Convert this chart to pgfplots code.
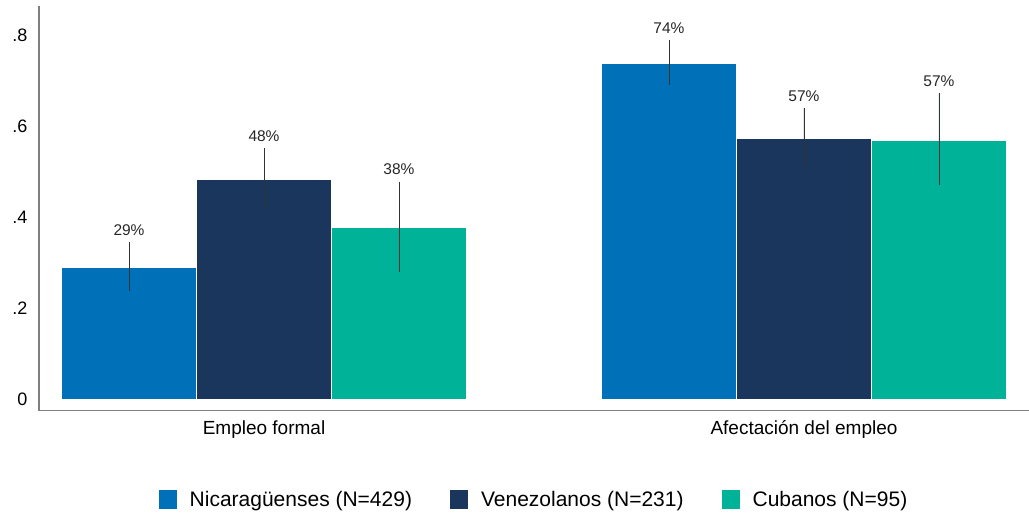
\documentclass[border=0pt]{standalone}
\usepackage{fontspec}
\setmainfont{Liberation Sans}
\usepackage{pgfplots}
\usepackage{pgfplotstable}
\pgfplotsset{compat=1.18}
\definecolor{nica}{HTML}{0070B8}
\definecolor{vene}{HTML}{1B365D}
\definecolor{cuba}{HTML}{00B398}
\definecolor{axisgray}{HTML}{7F7F7F}

% x: group centre (0 = Empleo formal, 1 = Afectacion) plus bar offset
% ep/em: upper and lower half of the confidence interval
\pgfplotstableread{
x     y     ep     em     lab
-0.25 0.290 0.0555 0.051  29
0.75  0.739 0.051  0.048  74
}\nicadata
\pgfplotstableread{
x     y     ep     em     lab
0.00  0.484 0.068  0.063  48
1.00  0.573 0.067  0.063  57
}\venedata
\pgfplotstableread{
x     y     ep     em     lab
0.25  0.378 0.101  0.097  38
1.25  0.569 0.104  0.098  57
}\cubadata

\begin{document}
\begin{tikzpicture}
\begin{axis}[
  name=ax,
  scale only axis,
  width=990pt, height=404.7pt,
  xmin=-0.4167, xmax=1.4167,
  ymin=-0.0246, ymax=0.865,
  axis x line=bottom, axis y line=left,
  axis line style={-, draw=axisgray, line width=1.2pt},
  major tick length=0pt,
  xtick={0,1},
  xticklabels={Empleo formal, Afectación del empleo},
  ytick={0,0.2,0.4,0.6,0.8},
  yticklabels={0,.2,.4,.6,.8},
  xticklabel style={font=\fontsize{19}{22}\selectfont, yshift=-6pt},
  yticklabel style={font=\fontsize{18}{21}\selectfont, xshift=-8pt},
  bar width=0.25,
  error bars/y dir=both,
  error bars/y explicit,
  error bars/error mark=none,
  error bars/error bar style={draw=black!80, line width=0.9pt},
  legend columns=3,
  legend style={
    at={(0.5,-0.22)}, anchor=center,
    draw=none, fill=none,
    font=\fontsize{21}{25}\selectfont,
    /tikz/every even column/.append style={column sep=36pt},
  },
  legend image code/.code={
    \fill[#1, draw=none] (0pt,-9.5pt) rectangle (18pt,9.5pt);
    \path[draw=none, fill=none] (0pt,0pt) -- (29pt,0pt);
  },
  every node near coord/.append style={font=\fontsize{15.5}{18}\selectfont, black!85, anchor=south, yshift=3pt},
]
\addplot[ybar, bar shift=0pt, fill=nica, draw=white, line width=1pt]
  table[x=x, y=y, y error plus=ep, y error minus=em] {\nicadata};
\addlegendentry{Nicaragüenses (N=429)}
\addplot[ybar, bar shift=0pt, fill=vene, draw=white, line width=1pt]
  table[x=x, y=y, y error plus=ep, y error minus=em] {\venedata};
\addlegendentry{Venezolanos (N=231)}
\addplot[ybar, bar shift=0pt, fill=cuba, draw=white, line width=1pt]
  table[x=x, y=y, y error plus=ep, y error minus=em] {\cubadata};
\addlegendentry{Cubanos (N=95)}

% percentage labels above the top of each interval
\addplot[forget plot, draw=none, mark=none, nodes near coords={\pgfplotspointmeta\%}, point meta=explicit symbolic]
  table[x=x, y expr=\thisrow{y}+\thisrow{ep}, meta=lab] {\nicadata};
\addplot[forget plot, draw=none, mark=none, nodes near coords={\pgfplotspointmeta\%}, point meta=explicit symbolic]
  table[x=x, y expr=\thisrow{y}+\thisrow{ep}, meta=lab] {\venedata};
\addplot[forget plot, draw=none, mark=none, nodes near coords={\pgfplotspointmeta\%}, point meta=explicit symbolic]
  table[x=x, y expr=\thisrow{y}+\thisrow{ep}, meta=lab] {\cubadata};
\end{axis}
\pgfresetboundingbox
\path ([shift={(-39pt,-103.3pt)}]ax.south west) rectangle ([shift={(0pt,6pt)}]ax.north east);
\end{tikzpicture}
\end{document}
